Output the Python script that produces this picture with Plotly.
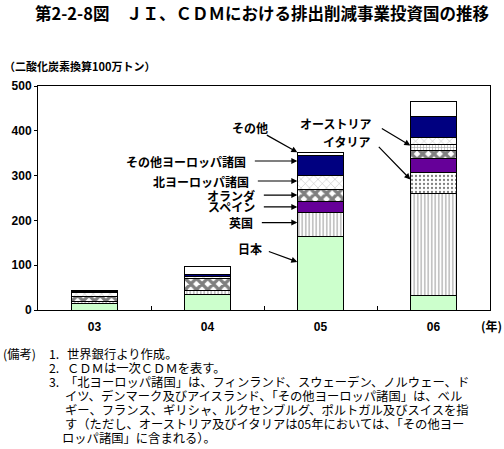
import plotly.graph_objects as go

# ---------------------------------------------------------------------------
# data (CO2 equivalent, million t)
# ---------------------------------------------------------------------------
years = ["03", "04", "05", "06"]
japan = [15, 35, 165, 33]
uk = [3, 9, 52, 227]
italy = [None, None, None, 47]
spain = [None, None, 25, 32]
netherlands = [12, 26, 27, 17]
austria = [None, None, None, 14]
north_europe = [8, 4, 31, 15]
other_europe = [4, 5, 44, 46]
other = [1, 17, 8, 34]

title_text = "第2-2-8図　ＪＩ、ＣＤＭにおける排出削減事業投資国の推移"
unit_text = "（二酸化炭素換算100万トン）"
note_lines = [
    "ＣＤＭは一次ＣＤＭを表す。",
    "「北ヨーロッパ諸国」は、フィンランド、スウェーデン、ノルウェー、ド",
    "イツ、デンマーク及びアイスランド、「その他ヨーロッパ諸国」は、ベル",
    "ギー、フランス、ギリシャ、ルクセンブルグ、ポルトガル及びスイスを指",
    "す（ただし、オーストリア及びイタリアは05年においては、「その他ヨー",
    "ロッパ諸国」に含まれる）。",
]

JP = "Noto Sans CJK JP"
PLOT_L, PLOT_T, PLOT_W, PLOT_H = 38, 86, 452, 224
BAR_W = 0.41

# (name, values, marker) in stacking order
series = [
    ("日本", japan, dict(color="#ccffcc")),
    ("英国", uk, dict(color="white", pattern=dict(
        shape="|", fgcolor="#555555", bgcolor="white", size=3.5, solidity=0.35))),
    ("イタリア", italy, dict(color="white", pattern=dict(
        shape=".", fgcolor="black", bgcolor="white", size=4, solidity=0.25))),
    ("スペイン", spain, dict(color="#660099")),
    ("オランダ", netherlands, dict(color="white", pattern=dict(
        shape="x", fgcolor="black", bgcolor="white", size=8, solidity=0.65))),
    ("オーストリア", austria, dict(color="white", pattern=dict(
        shape="+", fgcolor="#444444", bgcolor="white", size=3, solidity=0.35))),
    ("北ヨーロッパ諸国", north_europe, dict(color="white", pattern=dict(
        shape="x", fgcolor="#666666", bgcolor="white", size=6, solidity=0.15))),
    ("その他ヨーロッパ諸国", other_europe, dict(color="#000080")),
    ("その他", other, dict(color="white")),
]

fig = go.Figure()
bottoms = {}
running = [0.0] * len(years)
for name, vals, marker in series:
    bottoms[name] = list(running)
    running = [r + (v or 0) for r, v in zip(running, vals)]
    fig.add_trace(go.Bar(
        x=years, y=vals, name=name, width=BAR_W,
        marker=dict(line=dict(color="black", width=1), **marker),
    ))

values = {name: vals for name, vals, _ in series}


def head_value(name, cat, frac):
    return bottoms[name][cat] + frac * values[name][cat]


# labels with arrows: (name, category, frac up the segment,
#                      text xshift, text yshift, arrow ax, arrow ay)
callouts = [
    ("その他", 2, 1.0, -27, 25, -32, -18),
    ("その他ヨーロッパ諸国", 2, 0.74, -49, 0, -44, 0),
    ("北ヨーロッパ諸国", 2, 0.61, -46, 0, -41, 0),
    ("オランダ", 2, 0.54, -40, 0, -35, 0),
    ("スペイン", 2, 0.52, -40, 0, -35, 0),
    ("英国", 2, 0.58, -42, 0, -37, 0),
    ("日本", 2, 0.65, -33, 13, -30, -11),
    ("オーストリア", 3, 0.8, -37, 22, -30, -18),
    ("イタリア", 3, 0.67, -37, 38, -33, -34),
]
for name, cat, frac, dx, dy, ax, ay in callouts:
    hx = cat - BAR_W / 2
    hy = head_value(name, cat, frac)
    fig.add_annotation(
        x=hx, y=hy, xref="x", yref="y", text=name, showarrow=False,
        xanchor="right", yanchor="middle", xshift=dx, yshift=dy,
        font=dict(family=JP, size=12, color="black", weight="bold"),
    )
    fig.add_annotation(
        x=hx, y=hy, xref="x", yref="y", text="", showarrow=True,
        ax=ax, ay=ay, arrowhead=2, arrowsize=1, arrowwidth=1.2,
        arrowcolor="black", standoff=0,
    )


def paper_text(text, px, py, size=12, weight="normal", anchor="left"):
    fig.add_annotation(
        xref="paper", yref="paper", x=0, y=0, xanchor=anchor, yanchor="middle",
        xshift=px - PLOT_L, yshift=PLOT_T + PLOT_H - py, text=text,
        showarrow=False,
        font=dict(family=JP, size=size, color="black", weight=weight),
    )


paper_text(title_text, 33, 13, size=16.5, weight="bold")
paper_text(unit_text, 2, 66, size=11, weight="bold")
paper_text("(年)", 479, 325, size=12, weight="bold")

# notes block
note_y = [354, 368, 382, 396, 410, 424, 438]
NOTE_SIZE = 12.3
paper_text("(備考)", 1, note_y[0], size=NOTE_SIZE)
paper_text("1.", 47, note_y[0], size=NOTE_SIZE)
paper_text("世界銀行より作成。", 65, note_y[0], size=NOTE_SIZE)
paper_text("2.", 47, note_y[1], size=NOTE_SIZE)
paper_text(note_lines[0], 65, note_y[1], size=NOTE_SIZE)
paper_text("3.", 47, note_y[2], size=NOTE_SIZE)
paper_text(note_lines[1], 63, note_y[2], size=NOTE_SIZE)
for line, y in zip(note_lines[2:5], note_y[3:6]):
    paper_text(line, 63, y, size=NOTE_SIZE)
paper_text(note_lines[5], 60, note_y[6], size=NOTE_SIZE)

fig.update_layout(
    width=504, height=449, barmode="stack", showlegend=False,
    margin=dict(l=PLOT_L, r=504 - PLOT_L - PLOT_W, t=PLOT_T, b=449 - PLOT_T - PLOT_H),
    paper_bgcolor="white", plot_bgcolor="white",
    font=dict(family="Liberation Sans", color="black"),
)
fig.update_xaxes(
    type="category", range=[-0.5, 3.5], showline=True, linecolor="black",
    linewidth=1, mirror=True, ticks="inside", tickson="boundaries", ticklen=4,
    tickcolor="black", tickfont=dict(size=12, weight="bold"),
    ticklabelstandoff=6, showgrid=False,
)
fig.update_yaxes(
    range=[0, 500], dtick=100, showline=True, linecolor="black", linewidth=1,
    mirror=True, ticks="outside", ticklen=3, tickcolor="black",
    tickfont=dict(size=12, weight="bold"), showgrid=False, zeroline=False,
)

# the page's default body margin would push the 504x449 figure off the window
fig.write_html(
    "out.html",
    config={"displayModeBar": False},
    post_script="document.body.style.margin='0';",
)
